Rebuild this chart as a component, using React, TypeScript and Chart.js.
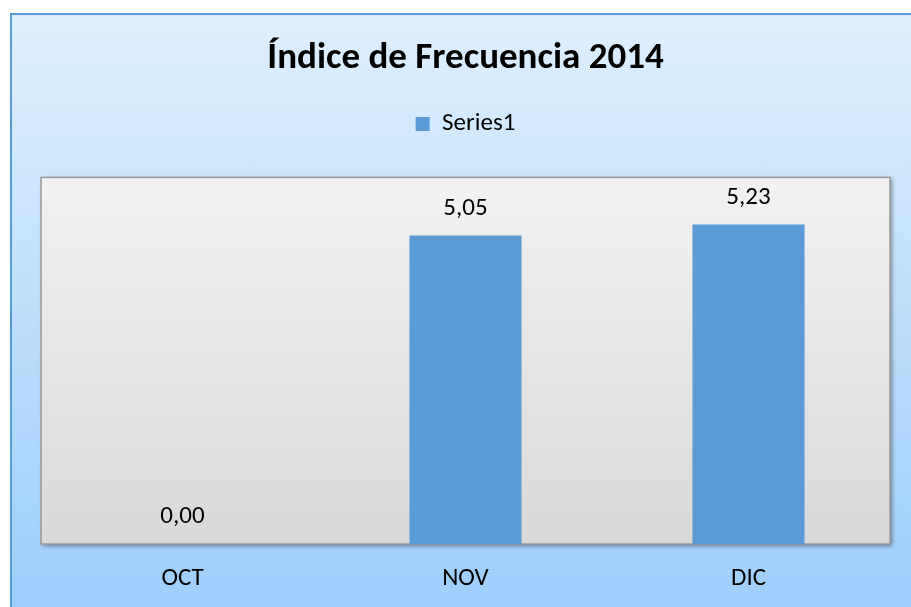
import React, { useEffect, useRef } from "react";
import { Chart, registerables } from "chart.js";

Chart.register(...registerables);

const categories = ["OCT", "NOV", "DIC"];
const seriesName = "Series1";
const seriesValues = [0.0, 5.05, 5.23];
const titleText = "Índice de Frecuencia 2014";
const yMin = 0;
const yMax = 6;

const FONT = "Carlito, Calibri, Lato, 'Noto Sans', sans-serif";
const BAR_COLOR = "#5B9BD5";

const plotBgPlugin = {
  id: "plotBg",
  beforeDraw(chart: any) {
    const { ctx, chartArea } = chart;
    if (!chartArea) return;
    const { left, top, right, bottom } = chartArea;
    ctx.save();
    const g = ctx.createLinearGradient(0, top, 0, bottom);
    g.addColorStop(0, "#F2F2F2");
    g.addColorStop(1, "#D9D9D9");
    ctx.shadowColor = "rgba(0,0,0,0.4)";
    ctx.shadowBlur = 4;
    ctx.shadowOffsetX = 2;
    ctx.shadowOffsetY = 2;
    ctx.fillStyle = g;
    ctx.fillRect(left, top, right - left, bottom - top);
    ctx.restore();
    ctx.save();
    ctx.strokeStyle = "#9A9A9A";
    ctx.lineWidth = 1.5;
    ctx.strokeRect(left, top, right - left, bottom - top);
    ctx.restore();
  },
};

const legendSpacePlugin = {
  id: "legendSpace",
  beforeInit(chart: any) {
    const legend = chart.legend;
    if (!legend) return;
    const origFit = legend.fit;
    legend.fit = function () {
      origFit.call(this);
      this.height += 31;
    };
  },
};

const dataLabelPlugin = {
  id: "dataLabels",
  afterDatasetsDraw(chart: any) {
    const { ctx } = chart;
    const meta = chart.getDatasetMeta(0);
    const ds = chart.data.datasets[0];
    ctx.save();
    ctx.font = `25px ${FONT}`;
    ctx.fillStyle = "#000000";
    ctx.textAlign = "center";
    ctx.textBaseline = "middle";
    meta.data.forEach((bar: any, i: number) => {
      const v = ds.data[i] as number;
      const txt = v.toFixed(2).replace(".", ",");
      ctx.fillText(txt, bar.x, bar.y - 27);
    });
    ctx.restore();
  },
};

export default function App() {
  const ref = useRef<HTMLCanvasElement>(null);
  useEffect(() => {
    if (!ref.current) return;
    const chart = new Chart(ref.current, {
      type: "bar",
      data: {
        labels: categories,
        datasets: [
          {
            label: seriesName,
            data: seriesValues,
            backgroundColor: BAR_COLOR,
            borderWidth: 0,
            barPercentage: 0.396,
            categoryPercentage: 1,
          },
        ],
      },
      options: {
        animation: false,
        responsive: false,
        maintainAspectRatio: false,
        layout: { padding: { left: 29, right: 30, top: 0, bottom: 19 } },
        plugins: {
          title: {
            display: true,
            text: titleText,
            color: "#000000",
            font: { family: FONT, size: 37, weight: "bold" },
            padding: { top: 22, bottom: 20 },
          },
          legend: {
            display: true,
            position: "top",
            labels: {
              boxWidth: 14,
              boxHeight: 14,
              color: "#000000",
              font: { family: FONT, size: 25 },
              padding: 10,
            },
          },
          tooltip: { enabled: false },
        },
        scales: {
          x: {
            grid: { display: false, drawTicks: false },
            border: { display: false },
            ticks: {
              color: "#000000",
              font: { family: FONT, size: 25 },
              padding: 20,
            },
          },
          y: {
            display: false,
            min: yMin,
            max: yMax,
          },
        },
      },
      plugins: [legendSpacePlugin, plotBgPlugin, dataLabelPlugin],
    });
    return () => chart.destroy();
  }, []);

  return (
    <div
      style={{
        position: "fixed",
        left: 0,
        top: 0,
        width: 911,
        height: 607,
        overflow: "hidden",
        background: "#FFFFFF",
      }}
    >
      <div
        style={{
          position: "absolute",
          left: 10,
          top: 13,
          width: 912,
          height: 640,
          boxSizing: "border-box",
          border: "2px solid #5B9BD5",
          background: "linear-gradient(to bottom, #DFEFFD 0px, #9DCEFB 594px)",
        }}
      >
        <canvas
          ref={ref}
          width={908}
          height={618}
          style={{ position: "absolute", left: 0, top: 0, width: 908, height: 618 }}
        />
      </div>
    </div>
  );
}
